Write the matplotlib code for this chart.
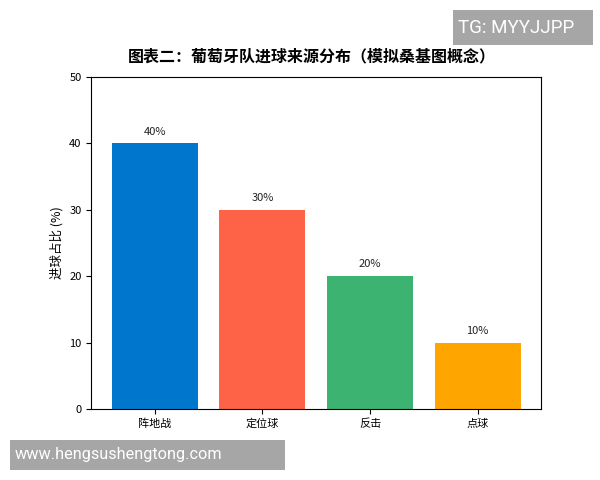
import matplotlib.pyplot as plt
from matplotlib.patches import Rectangle

plt.rcParams['font.family'] = ['Noto Sans CJK SC', 'DejaVu Sans']

# Daten
kategorien = ['阵地战', '定位球', '反击', '点球']
anteile = [40, 30, 20, 10]
farben = ['#0077CC', '#FF6347', '#3CB371', '#FFA500']

fig = plt.figure(figsize=(6, 4.8), dpi=100)
ax = fig.add_axes([0.152, 0.148, 0.75, 0.692])

bars = ax.bar(kategorien, anteile, color=farben, width=0.8)
for b, v in zip(bars, anteile):
    ax.text(b.get_x() + b.get_width() / 2, v + 1, f'{v}%',
            ha='center', va='bottom', fontsize=8, color='#222222')

ax.set_ylim(0, 50)
ax.set_yticks([0, 10, 20, 30, 40, 50])
ax.set_ylabel('进球占比 (%)', fontsize=9)
ax.tick_params(labelsize=8)

fig.text(0.52, 0.882, '图表二：葡萄牙队进球来源分布（模拟桑基图概念）',
         ha='center', va='center', fontsize=11.5, fontweight='bold')

# Wasserzeichen
grau = '#A6A6A6'
fig.patches.append(Rectangle((453 / 600, 1 - 45 / 480), 140 / 600, 35 / 480,
                             transform=fig.transFigure, facecolor=grau, edgecolor='none'))
fig.patches.append(Rectangle((10 / 600, 1 - 470 / 480), 275 / 600, 30 / 480,
                             transform=fig.transFigure, facecolor=grau, edgecolor='none'))
fig.text(458 / 600, 1 - 28 / 480, 'TG: MYYJJPP', ha='left', va='center', fontsize=13.5,
         color='white', family=['Roboto', 'DejaVu Sans'])
fig.text(15 / 600, 1 - 455 / 480, 'www.hengsushengtong.com', ha='left', va='center',
         fontsize=11.7, color='white', family=['Roboto', 'DejaVu Sans'])

fig.savefig('out.png', dpi=100)
